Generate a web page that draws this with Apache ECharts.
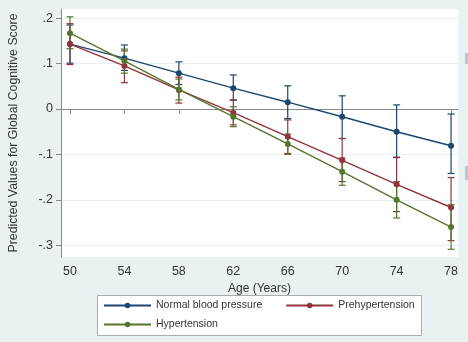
<!DOCTYPE html>
<html>
<head>
<meta charset="utf-8">
<script src="https://cdn.jsdelivr.net/npm/echarts@6/dist/echarts.min.js"></script>
<style>
html,body{margin:0;padding:0;background:#eaf1f3;}
#c{width:468px;height:342px;}
</style>
</head>
<body>
<div id="c"></div>
<script>
var ages = [50, 54, 58, 62, 66, 70, 74, 78];
var xTicks = [50, 54, 58, 62, 66, 70, 74, 78];
var yTicks = [-0.3, -0.2, -0.1, 0, 0.1, 0.2];

var normal   = [0.143, 0.112, 0.079, 0.046, 0.015, -0.017, -0.050, -0.081];
var normalLo = [0.101, 0.085, 0.054, 0.020, -0.021, -0.065, -0.107, -0.142];
var normalHi = [0.185, 0.141, 0.104, 0.075, 0.051, 0.029, 0.009, -0.011];

var pre   = [0.143, 0.095, 0.042, -0.008, -0.061, -0.113, -0.166, -0.217];
var preLo = [0.098, 0.058, 0.013, -0.035, -0.098, -0.160, -0.226, -0.290];
var preHi = [0.188, 0.128, 0.070, 0.019, -0.024, -0.065, -0.106, -0.151];

var hyp   = [0.167, 0.106, 0.043, -0.017, -0.077, -0.138, -0.200, -0.260];
var hypLo = [0.133, 0.079, 0.020, -0.039, -0.100, -0.168, -0.240, -0.309];
var hypHi = [0.203, 0.132, 0.066, 0.005, -0.055, -0.108, -0.160, -0.211];

var names = ['Normal blood pressure', 'Prehypertension', 'Hypertension'];
var colors = ['#1a476f', '#90353b', '#55752f'];
var FONT = '"Liberation Sans", Arial, sans-serif';

function pairs(ys) { return ages.map(function (a, i) { return [a, ys[i]]; }); }
function bars(lo, hi) { return ages.map(function (a, i) { return [a, lo[i], hi[i]]; }); }

function errSeries(name, lo, hi, color) {
  return {
    type: 'custom',
    name: name + ' CI',
    data: bars(lo, hi),
    z: 1,
    silent: true,
    color: color,
    renderItem: function (params, api) {
      var x = api.value(0);
      var p1 = api.coord([x, api.value(1)]);
      var p2 = api.coord([x, api.value(2)]);
      var w = 3.5;
      var st = { stroke: color, lineWidth: 1.2 };
      return {
        type: 'group',
        children: [
          { type: 'line', shape: { x1: p1[0], y1: p1[1], x2: p2[0], y2: p2[1] }, style: st },
          { type: 'line', shape: { x1: p1[0] - w, y1: p1[1], x2: p1[0] + w, y2: p1[1] }, style: st },
          { type: 'line', shape: { x1: p2[0] - w, y1: p2[1], x2: p2[0] + w, y2: p2[1] }, style: st }
        ]
      };
    }
  };
}

function lineSeries(name, ys, color) {
  return {
    type: 'line',
    name: name,
    data: pairs(ys),
    z: 3,
    symbol: 'circle',
    symbolSize: 6,
    color: color,
    lineStyle: { color: color, width: 1.4 },
    itemStyle: { color: color },
    animation: false
  };
}

var legendText = { fontSize: 10.5, color: '#333', fontFamily: FONT };

var chart = echarts.init(document.getElementById('c'));
chart.setOption({
  animation: false,
  backgroundColor: '#eaf1f3',
  textStyle: { fontFamily: FONT },
  grid: {
    left: 59, right: 10, top: 9, bottom: 85,
    show: true, backgroundColor: '#ffffff', borderWidth: 0
  },
  xAxis: {
    type: 'value',
    min: 49.34, max: 78.51,
    name: 'Age (Years)',
    nameLocation: 'middle',
    nameGap: 23,
    nameTextStyle: { fontSize: 12, color: '#333', fontFamily: FONT },
    axisLine: { show: true, lineStyle: { color: '#888', width: 1 } },
    axisTick: { show: true, length: 5, customValues: xTicks, lineStyle: { color: '#888' } },
    axisLabel: { customValues: xTicks, fontSize: 12.5, color: '#333', margin: 8, fontFamily: FONT },
    splitLine: { show: false }
  },
  yAxis: {
    type: 'value',
    min: -0.326, max: 0.2203,
    name: 'Predicted Values for Global Cognitive Score',
    nameLocation: 'middle',
    nameGap: 41,
    nameRotate: 90,
    nameTextStyle: { fontSize: 12.3, color: '#333', fontFamily: FONT },
    axisLine: { show: true, lineStyle: { color: '#888', width: 1 } },
    axisTick: { show: true, length: 5, customValues: yTicks, lineStyle: { color: '#888' } },
    axisLabel: {
      customValues: yTicks, fontSize: 12.5, color: '#333', margin: 8, fontFamily: FONT,
      formatter: function (v) {
        var r = Math.round(v * 10) / 10;
        if (r === 0) return '0';
        var s = String(r);
        return s.replace('0.', '.');
      }
    },
    splitLine: { show: true, lineStyle: { color: '#e8eff1', width: 1 } }
  },
  legend: [
    {
      data: [names[0], names[1]],
      left: 98, top: 295,
      itemWidth: 47, itemHeight: 7, itemGap: 23,
      textStyle: legendText
    },
    {
      data: [names[2]],
      left: 98, top: 314,
      itemWidth: 47, itemHeight: 7, itemGap: 23,
      textStyle: legendText
    }
  ],
  graphic: [
    { type: 'rect', left: 97, top: 295, shape: { width: 324, height: 40 }, z: -1,
      style: { fill: '#ffffff', stroke: '#a7aeb2', lineWidth: 1 } },
    { type: 'rect', left: 465, top: 53, shape: { width: 3, height: 11 },
      style: { fill: '#bcc3c7' } },
    { type: 'rect', left: 465, top: 166, shape: { width: 3, height: 14 },
      style: { fill: '#bcc3c7' } }
  ],
  series: [
    errSeries(names[0], normalLo, normalHi, colors[0]),
    errSeries(names[1], preLo, preHi, colors[1]),
    errSeries(names[2], hypLo, hypHi, colors[2]),
    lineSeries(names[0], normal, colors[0]),
    lineSeries(names[1], pre, colors[1]),
    lineSeries(names[2], hyp, colors[2])
  ]
});
</script>
</body>
</html>
